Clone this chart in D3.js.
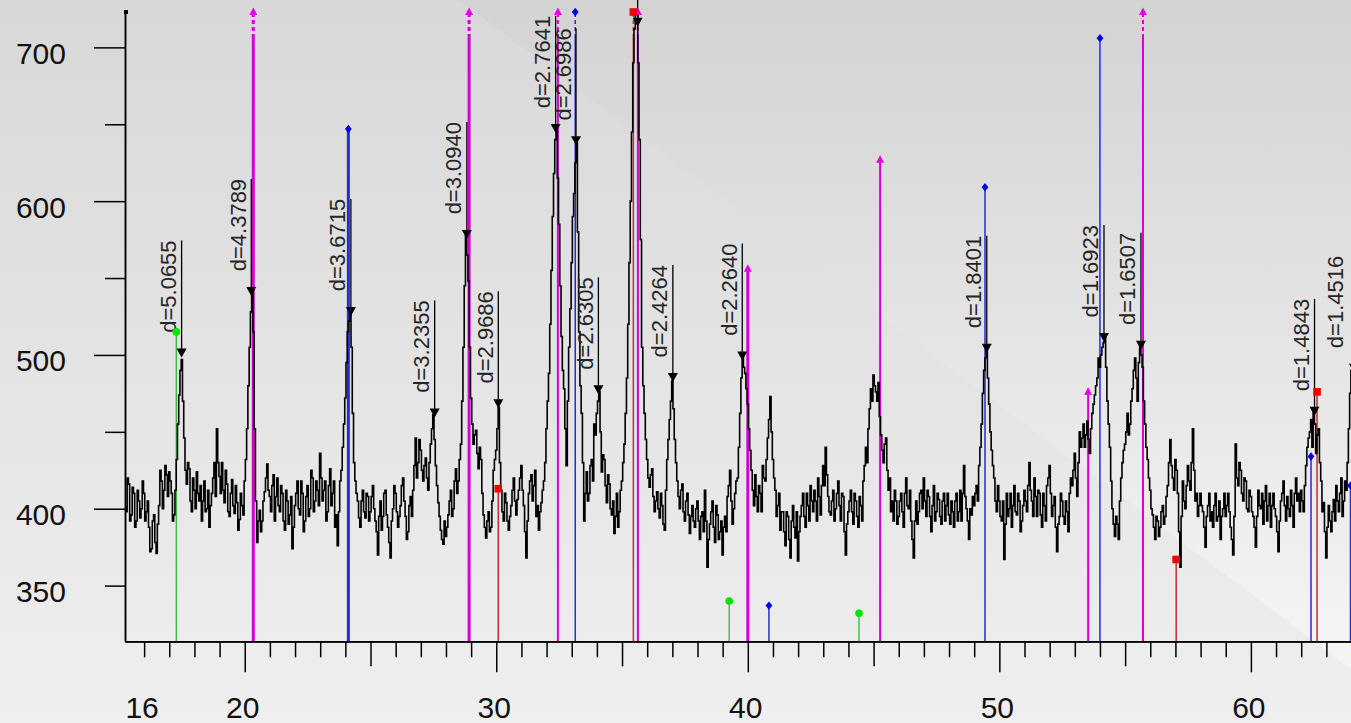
<!DOCTYPE html>
<html>
<head>
<meta charset="utf-8">
<script src="https://cdn.jsdelivr.net/npm/d3@7"></script>
<style>
  html, body { margin: 0; padding: 0; overflow: hidden; background: #e4e4e4; }
  svg { display: block; }
</style>
</head>
<body>
<script>
const width = 1351, height = 723;

// measured pattern: intensity at 15.0, 15.1, ... and intensityHalf at 15.05, 15.15, ...
const startAngle = 15.0, stepAngle = 0.1;
const intensity = [
  408, 404, 412, 398, 416, 396, 410, 392, 405, 400,
  410, 398, 388, 374, 396, 371, 402, 418, 412, 422,
  424, 410, 396, 432, 474, 497, 446, 416, 426, 398,
  412, 424, 405, 392, 418, 400, 388, 410, 430, 452,
  421, 430, 404, 416, 395, 419, 397, 404, 393, 402,
  418, 452, 505, 541, 452, 378, 399, 392, 411, 429,
  408, 415, 392, 420, 398, 410, 386, 405, 396, 374,
  402, 418, 396, 410, 392, 415, 400, 420, 405, 412,
  436, 405, 418, 398, 426, 410, 388, 376, 418, 440,
  472, 515, 527, 462, 418, 405, 388, 412, 394, 408,
  398, 415, 392, 370, 405, 395, 412, 388, 368, 400,
  410, 388, 402, 420, 395, 385, 408, 412, 446, 430,
  438, 418, 433, 412, 442, 461, 428, 404, 386, 377,
  382, 396, 412, 400, 426, 418, 442, 505, 578, 548,
  472, 442, 451, 426, 432, 396, 381, 398, 388, 425,
  438, 466, 412, 392, 404, 386, 402, 420, 396, 412,
  428, 402, 368, 410, 422, 415, 395, 386, 404, 418,
  452, 488, 555, 618, 646, 585, 512, 478, 428, 505,
  560, 605, 638, 515, 462, 392, 424, 410, 432, 455,
  462, 476, 424, 432, 404, 416, 396, 384, 410, 398,
  418, 442, 485, 560, 645, 712, 732, 640, 505, 462,
  432, 414, 426, 398, 411, 394, 402, 386, 432, 458,
  483, 445, 418, 400, 416, 392, 410, 384, 402, 388,
  405, 380, 398, 412, 362, 390, 405, 378, 396, 385,
  370, 395, 408, 425, 390, 410, 420, 462, 499, 488,
  468, 438, 412, 422, 398, 410, 428, 418, 446, 473,
  432, 412, 402, 386, 398, 376, 395, 368, 402, 381,
  366, 395, 410, 388, 402, 415, 398, 405, 420, 396,
  428, 440, 408, 396, 412, 400, 418, 392, 408, 370,
  398, 412, 390, 405, 388, 402, 418, 440, 452, 478,
  487, 476, 482, 448, 430, 446, 412, 398, 392, 405,
  395, 410, 388, 420, 400, 392, 368, 405, 398, 412,
  420, 395, 408, 385, 415, 398, 406, 390, 410, 402,
  396, 405, 388, 410, 398, 392, 428, 400, 380, 396,
  402, 415, 428, 455, 490, 503, 468, 438, 420, 398,
  405, 392, 367, 410, 400, 388, 415, 396, 405, 392,
  412, 398, 430, 405, 420, 395, 410, 388, 402, 415,
  428, 395, 408, 372, 395, 405, 390, 398, 410, 415,
  436, 408, 450, 446, 440, 457, 436, 462, 474, 485,
  492, 505, 511, 470, 440, 400, 382, 390, 405, 430,
  442, 462, 455, 478, 498, 470, 505, 492, 455, 432,
  412, 396, 380, 392, 388, 402, 395, 415, 445, 420,
  432, 410, 362, 418, 400, 428, 412, 452, 405, 395,
  410, 398, 375, 402, 392, 388, 410, 395, 380, 400,
  395, 410, 388, 370, 442, 415, 425, 405, 418, 398,
  408, 395, 375, 412, 400, 390, 415, 402, 388, 410,
  395, 372, 405, 418, 392, 400, 412, 388, 420, 410,
  412, 398, 428, 446, 458, 463, 436, 452, 418, 404,
  368, 402, 385, 406, 415, 398, 420, 405, 412, 452,
  490
];
const intensityHalf = [
  396, 415, 401, 420, 392, 414, 388, 412, 394, 418,
  392, 405, 372, 392, 378, 390, 425, 400, 428, 408,
  418, 392, 412, 455, 490, 470, 425, 430, 405, 420,
  400, 410, 415, 405, 398, 412, 402, 420, 408, 430,
  410, 412, 425, 398, 410, 402, 415, 386, 410, 396,
  432, 480, 528, 515, 405, 392, 385, 405, 420, 412,
  398, 422, 408, 402, 415, 392, 412, 390, 408, 388,
  410, 400, 418, 385, 408, 395, 425, 398, 418, 402,
  420, 412, 392, 415, 402, 418, 396, 398, 425, 455,
  495, 522, 505, 430, 410, 394, 405, 398, 410, 392,
  408, 400, 385, 395, 386, 410, 396, 378, 392, 415,
  398, 395, 415, 405, 380, 402, 395, 428, 420, 445,
  425, 428, 420, 430, 452, 445, 415, 395, 380, 392,
  388, 405, 395, 418, 410, 432, 470, 545, 565, 505,
  455, 448, 436, 440, 410, 388, 392, 385, 405, 432,
  452, 430, 398, 410, 392, 395, 412, 405, 406, 420,
  412, 385, 392, 418, 405, 425, 402, 398, 412, 430,
  470, 520, 590, 640, 615, 545, 490, 452, 470, 530,
  590, 625, 580, 480, 430, 410, 405, 428, 418, 448,
  470, 450, 435, 415, 422, 400, 405, 395, 388, 412,
  430, 462, 520, 600, 690, 728, 690, 575, 480, 445,
  420, 422, 408, 405, 400, 410, 390, 412, 445, 470,
  465, 430, 408, 412, 398, 405, 396, 395, 392, 400,
  392, 395, 385, 392, 380, 398, 388, 402, 380, 392,
  388, 385, 415, 405, 400, 418, 440, 485, 492, 478,
  452, 425, 402, 408, 415, 398, 420, 432, 458, 450,
  420, 395, 410, 398, 385, 398, 380, 392, 388, 398,
  385, 402, 395, 410, 392, 405, 412, 392, 408, 415,
  415, 422, 398, 405, 392, 410, 402, 410, 385, 390,
  405, 398, 410, 395, 408, 392, 428, 430, 465, 470,
  480, 470, 460, 438, 442, 425, 420, 405, 412, 390,
  405, 398, 410, 402, 412, 380, 392, 390, 410, 400,
  405, 412, 395, 402, 392, 410, 395, 405, 392, 410,
  390, 398, 405, 392, 412, 410, 408, 392, 400, 408,
  410, 405, 440, 475, 498, 485, 450, 428, 405, 415,
  395, 405, 390, 395, 410, 402, 398, 410, 385, 402,
  405, 415, 412, 395, 408, 412, 396, 410, 392, 420,
  410, 402, 388, 390, 410, 395, 405, 385, 420, 425,
  420, 430, 440, 455, 448, 445, 452, 468, 480, 498,
  500, 508, 492, 455, 418, 390, 395, 380, 420, 438,
  450, 448, 470, 490, 485, 495, 500, 470, 440, 420,
  400, 388, 395, 382, 398, 390, 408, 430, 428, 412,
  425, 385, 395, 405, 415, 418, 430, 425, 410, 402,
  402, 388, 395, 410, 398, 402, 392, 405, 395, 410,
  402, 398, 380, 395, 420, 430, 410, 420, 400, 412,
  398, 388, 395, 402, 410, 405, 392, 410, 402, 400,
  385, 392, 410, 402, 408, 395, 402, 410, 405, 398,
  405, 415, 440, 450, 440, 455, 448, 430, 398, 385,
  388, 392, 398, 392, 405, 410, 395, 418, 430, 475
];

// reference stick patterns (760 = off scale)
const greenPos = [17.28, 39.26, 44.42];
const greenInt = [515, 340, 332];
const magentaPos = [20.34, 28.92, 32.45, 35.63, 40.0, 45.26, 53.53, 55.71];
const magentaInt = [760, 760, 760, 760, 556, 627, 476, 760];
const bluePos = [24.12, 33.14, 40.84, 49.43, 54.0, 62.39, 63.96];
const blueInt = [647, 760, 337, 609, 706, 434, 415];
const redPos = [30.08, 35.45, 57.03, 62.63];
const redInt = [413, 760, 367, 476];
const strongLines = [20.34, 28.92, 40.0, 24.12];

// peak search results
const peakPos = [17.49, 20.26, 24.22, 27.55, 28.83, 30.08, 32.36, 33.17, 34.06, 35.62,
  37.02, 39.78, 49.50, 54.16, 55.63, 62.53, 64.10];
const peakInt = [501, 541, 528, 462, 578, 468, 647, 639, 477, 716,
  485, 499, 504, 511, 506, 463, 491];
const peakD = ["5.0655", "4.3789", "3.6715", "3.2355", "3.0940", "2.9686", "2.7641", "2.6986", "2.6305", "",
  "2.4264", "2.2640", "1.8401", "1.6923", "1.6507", "1.4843", "1.4516"];

const xTickLabels = [16, 20, 30, 40, 50, 60];
const yTickLabels = [350, 400, 500, 600, 700];

const plotLeft = 125, plotTop = 10, plotBottom = 641.3;

const x = d3.scaleLinear().domain([15.24, 63.98]).range([plotLeft, width]);
const y = d3.scaleLinear().domain([313.8, 724.3]).range([plotBottom, plotTop]);

const svg = d3.select("body").append("svg")
  .attr("width", width)
  .attr("height", height)
  .attr("font-family", "'Liberation Sans', Arial, sans-serif");

const defs = svg.append("defs");
function vGrad(id, c0, c1) {
  const g = defs.append("linearGradient").attr("id", id)
    .attr("x1", 0).attr("y1", 0).attr("x2", 0).attr("y2", 1);
  g.append("stop").attr("offset", 0).attr("stop-color", c0);
  g.append("stop").attr("offset", 1).attr("stop-color", c1);
}
vGrad("bgRight", "#d3d3d3", "#f8f8f8");
vGrad("bgLeft", "#d8d8d8", "#efefef");

defs.append("clipPath").attr("id", "plot")
  .append("rect").attr("x", plotLeft).attr("y", plotTop)
  .attr("width", width - plotLeft).attr("height", plotBottom - plotTop);

svg.append("rect").attr("width", width).attr("height", height).attr("fill", "url(#bgRight)");
svg.append("path")
  .attr("d", `M0,0L459,0L${width},${(width - 459) * 0.75}L${width},${height}L0,${height}Z`)
  .attr("fill", "url(#bgLeft)");

// marker shapes
const shapes = {
  circle: "M3.8,0A3.8,3.8,0,1,1,-3.8,0A3.8,3.8,0,1,1,3.8,0Z",
  triangle: "M0,-4.5L4,3L-4,3Z",
  diamond: "M0,-4.2L3.4,0L0,4.2L-3.4,0Z",
  square: "M-3.8,-3.8H3.8V3.8H-3.8Z"
};

const phases = [
  { pos: greenPos, val: greenInt, line: "#3cbc3c", fill: "#00e400", shape: shapes.circle, w: 1.4 },
  { pos: magentaPos, val: magentaInt, line: "#d600d6", fill: "#e600e6", shape: shapes.triangle, w: 2 },
  { pos: bluePos, val: blueInt, line: "#2828dc", fill: "#0000f0", shape: shapes.diamond, w: 1.5 },
  { pos: redPos, val: redInt, line: "#cc2a2a", fill: "#f00000", shape: shapes.square, w: 1.5 }
];

const sticks = svg.append("g");
const stickMarks = svg.append("g");
phases.forEach(p => {
  p.pos.forEach((a, i) => {
    const px = x(a);
    const over = y(p.val[i]) < plotTop + 2;
    const yTop = over ? plotTop + 2 : y(p.val[i]);
    const w = strongLines.includes(a) ? 3 : p.w;
    if (over) {
      sticks.append("line").attr("x1", px).attr("x2", px)
        .attr("y1", plotBottom).attr("y2", 38)
        .attr("stroke", p.line).attr("stroke-width", w);
      sticks.append("line").attr("x1", px).attr("x2", px)
        .attr("y1", 38).attr("y2", yTop)
        .attr("stroke", p.line).attr("stroke-width", w)
        .attr("stroke-dasharray", "4,3");
    } else {
      sticks.append("line").attr("x1", px).attr("x2", px)
        .attr("y1", plotBottom).attr("y2", yTop)
        .attr("stroke", p.line).attr("stroke-width", w);
    }
    stickMarks.append("path").attr("d", p.shape)
      .attr("transform", `translate(${px},${yTop})`)
      .attr("fill", p.fill);
  });
});

// measured trace, drawn as steps like the instrument plot
const trace = [];
intensity.forEach((v, i) => {
  const a = startAngle + i * stepAngle;
  trace.push([a, v]);
  if (i < intensityHalf.length) trace.push([a + stepAngle / 2, intensityHalf[i]]);
});
svg.append("g").attr("clip-path", "url(#plot)")
  .append("path")
  .datum(trace)
  .attr("fill", "none")
  .attr("stroke", "#000")
  .attr("stroke-width", 1.6)
  .attr("d", d3.line().curve(d3.curveStep).x(d => x(d[0])).y(d => y(d[1])));

// peak markers and labels
const peaks = svg.append("g");
peakPos.forEach((a, i) => {
  const px = x(a), py = y(peakInt[i]);
  peaks.append("line").attr("x1", px).attr("x2", px)
    .attr("y1", py).attr("y2", py - 113)
    .attr("stroke", "#000").attr("stroke-width", 1.3);
  peaks.append("path").attr("d", "M-5,-5L5,-5L0,4Z")
    .attr("transform", `translate(${px},${py})`)
    .attr("fill", "#000");
  if (peakD[i]) {
    peaks.append("text")
      .attr("transform", `translate(${Math.min(px - 5.5, width - 8)},${py - 113}) rotate(-90)`)
      .attr("text-anchor", "end")
      .attr("font-size", 22)
      .attr("fill", "#262626")
      .text("d=" + peakD[i]);
  }
});
svg.node().appendChild(stickMarks.node());

// axes
function styleAxis(g) {
  g.selectAll("path, line").attr("stroke", "#000").attr("stroke-width", 1.5);
  g.selectAll("text").remove();
}
const ints = d3.range(16, 64);
svg.append("g").attr("transform", `translate(0,${plotBottom})`)
  .call(d3.axisBottom(x).tickValues(ints.filter(v => v % 5)).tickSize(16).tickSizeOuter(0))
  .call(styleAxis);
svg.append("g").attr("transform", `translate(0,${plotBottom})`)
  .call(d3.axisBottom(x).tickValues(ints.filter(v => v % 5 === 0 && v % 10)).tickSize(25).tickSizeOuter(0))
  .call(styleAxis);
svg.append("g").attr("transform", `translate(0,${plotBottom})`)
  .call(d3.axisBottom(x).tickValues(ints.filter(v => v % 10 === 0)).tickSize(31).tickSizeOuter(0))
  .call(styleAxis);

svg.append("g").attr("transform", `translate(${plotLeft},0)`)
  .call(d3.axisLeft(y).tickValues([400, 500, 600, 700]).tickSize(31).tickSizeOuter(0))
  .call(styleAxis);
svg.append("g").attr("transform", `translate(${plotLeft},0)`)
  .call(d3.axisLeft(y).tickValues([350, 450, 550, 650]).tickSize(20).tickSizeOuter(0))
  .call(styleAxis);
svg.append("rect").attr("x", plotLeft - 1).attr("y", plotTop).attr("width", 4).attr("height", 4).attr("fill", "#000");

svg.append("g").selectAll("text").data(xTickLabels).join("text")
  .attr("x", d => x(d) - 2).attr("y", 718)
  .attr("text-anchor", "middle")
  .attr("font-size", 30)
  .attr("fill", "#111")
  .text(d => d);

svg.append("g").selectAll("text").data(yTickLabels).join("text")
  .attr("x", 66).attr("y", d => y(d) + 16.5)
  .attr("text-anchor", "end")
  .attr("font-size", 30)
  .attr("fill", "#111")
  .text(d => d);
</script>
</body>
</html>
